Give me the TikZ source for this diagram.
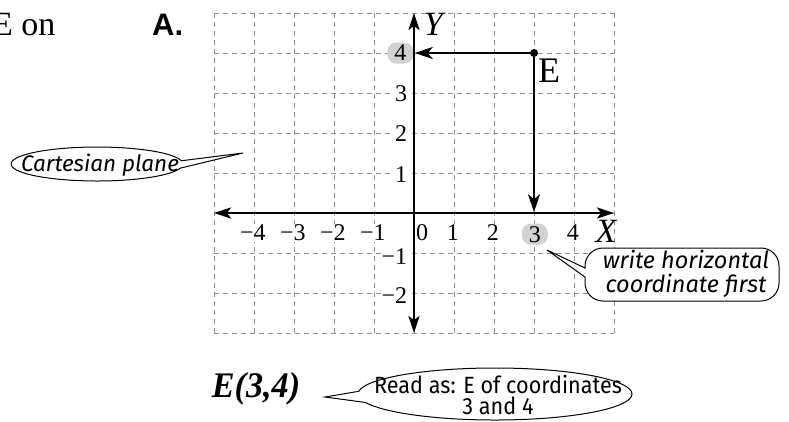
\documentclass[tikz,border=0pt]{standalone}
\usepackage{fontspec}
\setmainfont{Liberation Serif}
\newfontfamily\labfont{Liberation Sans}
\newfontfamily\eserif[FakeStretch=0.95]{Liberation Serif}
\newfontfamily\callfont[FakeStretch=0.92]{Fira Sans}
\newfontfamily\callit{Fira Sans}
\usetikzlibrary{arrows.meta}
\begin{document}
\begin{tikzpicture}[x=1pt,y=-1pt,
  gridline/.style={draw=gray!85, line width=0.8pt, dash pattern=on 5pt off 4pt},
  axisline/.style={line width=2.4pt, {Stealth[length=17pt,width=11pt,inset=4pt]}-{Stealth[length=17pt,width=11pt,inset=4pt]}},
  readarrow/.style={line width=2pt, -{Stealth[length=18pt,width=12pt,inset=5pt]}},
  ticklab/.style={font=\fontsize{24}{26}\selectfont, fill=white, inner sep=1pt},
  hilite/.style={fill=gray!35, rounded corners=9pt, minimum width=26pt, minimum height=21pt, inner sep=0pt},
  axlab/.style={font=\itshape\fontsize{34}{36}\selectfont, inner sep=0pt},
  bubble/.style={draw, line width=1pt, fill=white},
  calltext/.style={font=\callit\itshape\fontsize{24}{24}\selectfont, align=center, inner sep=0pt}
]
\useasboundingbox (0,0) rectangle (789,421);

% cut-off text and heading
\node[anchor=base west, inner sep=0pt, font=\fontsize{34}{40}\selectfont] (eon) at (-8,35) {E on};
\node[anchor=base west, inner sep=0pt, font=\labfont\bfseries\fontsize{31}{32}\selectfont] (A) at (152,35) {A.};

\begin{scope}[shift={(414,213)}, x=40pt, y=40pt]
  \draw[gridline, step=1] (-5,-3) grid (5,5);
  % tick labels on x axis
  \foreach \v/\t in {-4/−4,-3/−3,-2/−2,-1/−1,1/1,2/2,4/4}
    \node[ticklab] (x\v) at (\v-0.03,-0.5) {\t};
  \node[ticklab] (x0) at (0.2,-0.5) {0};
  \node[ticklab, hilite] (x3) at (3.02,-0.53) {3};
  % tick labels on y axis
  \node[ticklab, anchor=east] (y3) at (-0.14,2.99) {3};
  \node[ticklab, anchor=east] (y2) at (-0.14,1.99) {2};
  \node[ticklab, anchor=east] (y1) at (-0.14,0.97) {1};
  \node[ticklab, anchor=east] (ym1) at (-0.14,-1.1) {−1};
  \node[ticklab, anchor=east] (ym2) at (-0.14,-2.07) {−2};
  \node[ticklab, hilite] (y4) at (-0.34,4) {4};
  % axes
  \coordinate (xl) at (-5,0);
  \coordinate (xr) at (5,0);
  \coordinate (yb) at (0,-3);
  \coordinate (yt) at (0,5);
  \draw[axisline] (xl) -- (xr);
  \draw[axisline] (yb) -- (yt);
  \node[axlab] (Y) at (0.48,4.72) {Y};
  \node[axlab] (X) at (4.8,-0.45) {X};
  % point E
  \node[circle, fill, inner sep=0pt, minimum size=8pt] (E) at (3,4) {};
  \node[inner sep=0pt, font=\fontsize{36}{38}\selectfont] (Elab) at (3.38,3.55) {E};
  \coordinate (e4) at (0.02,4);
  \coordinate (e3) at (3,0.02);
  \draw[readarrow] (E) -- (e4);
  \draw[readarrow] (E) -- (e3);
\end{scope}

% callout: Cartesian plane
\coordinate (cpc) at (97,164);
\coordinate (cptip) at (243,153);
\draw[bubble] (cptip) -- ([shift={(14:86 and 17)}]cpc) arc[start angle=14, end angle=349, x radius=86, y radius=17] -- cycle;
\node[calltext, font=\callit\itshape\fontsize{22.5}{24}\selectfont] (cp) at (100,165) {Cartesian plane};

% callout: write horizontal coordinate first
\coordinate (wtip) at (547,250);
\draw[bubble] (wtip) -- (585,268) -- (585,266) arc[start angle=180, end angle=270, radius=18] -- (761,248)
  arc[start angle=270, end angle=360, radius=18] -- (779,283)
  arc[start angle=0, end angle=90, radius=18] -- (603,301)
  arc[start angle=90, end angle=180, radius=18] -- (585,277) -- cycle;
\node[calltext, font=\callit\itshape\fontsize{23.5}{24}\selectfont] (wr) at (686,274) {write horizontal\\coordinate first};

% E(3,4) and callout
\node[inner sep=0pt, font=\eserif\bfseries\itshape\fontsize{36}{38}\selectfont] (E34) at (256,389) {E(3,4)};
\coordinate (rdc) at (495,394);
\coordinate (rdtip) at (325,397);
\draw[bubble] (rdtip) -- ([shift={(186:137 and 26)}]rdc) arc[start angle=186, end angle=521, x radius=137, y radius=26] -- cycle;
\node[calltext, font=\callfont\fontsize{23.5}{21.5}\selectfont] (rd) at (498,395) {Read as: E of coordinates\\3 and 4};
\end{tikzpicture}
\end{document}
